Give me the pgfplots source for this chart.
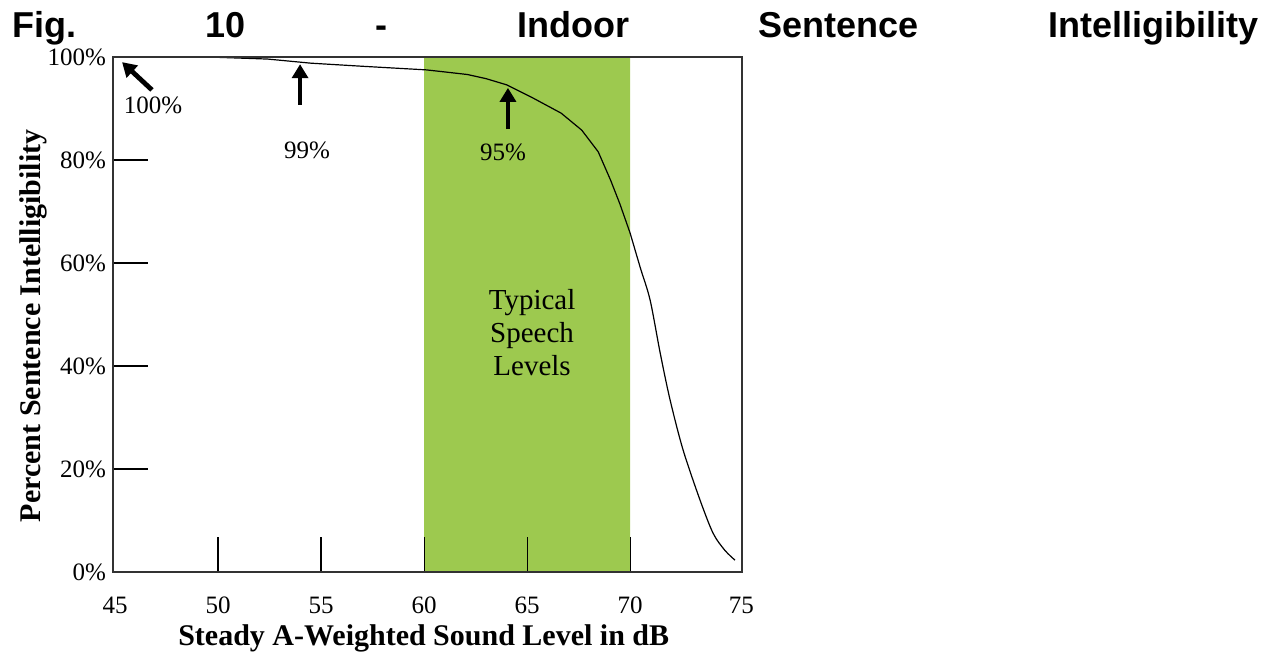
\documentclass[border=0pt]{standalone}
\usepackage{pgfplots}
\pgfplotsset{compat=1.18}
\usepackage{fontspec}
\setmainfont{Liberation Serif}
\newfontfamily\titlefont{Liberation Sans}
\usetikzlibrary{arrows.meta}
\definecolor{speechgreen}{RGB}{157,201,79}
\definecolor{axisgray}{RGB}{50,50,50}

\begin{document}
\begin{tikzpicture}
  \useasboundingbox (0,0) rectangle (635pt,329pt);
  % title, words spread over the full width
  \node[anchor=base west, inner sep=0pt] at (6pt,310pt)
    {\titlefont\bfseries\fontsize{18}{20}\selectfont
     \hbox to 623pt{Fig.\hfill 10\hfill -\hfill Indoor\hfill Sentence\hfill Intelligibility}};
  \begin{axis}[
    at={(56.5pt,43pt)}, anchor=south west,
    scale only axis, width=314.5pt, height=257.5pt,
    xmin=44.9, xmax=75.43, ymin=0, ymax=100,
    axis on top,
    axis line style={axisgray, line width=1pt},
    tick align=inside, xtick pos=bottom, ytick pos=left,
    major tick length=17.5pt,
    tick style={black, line width=0.6pt},
    xtick={50,55,60,65,70},
    ytick={20,40,60,80},
    extra x ticks={45,75.4},
    extra x tick labels={45,75},
    extra y ticks={0,100},
    extra tick style={major tick length=0pt},
    /pgf/number format/assume math mode=true,
    ticklabel style={font=\fontsize{12.5}{14}\selectfont},
    yticklabel={\pgfmathprintnumber{\tick}\%},
    xticklabel style={anchor=center, yshift=-16.5pt},
    xlabel={Steady A-Weighted Sound Level in dB},
    ylabel={Percent Sentence Intelligibility},
    label style={font=\bfseries\fontsize{15}{17}\selectfont},
    xlabel style={at={(axis description cs:0.494,-0.128)}, anchor=center},
    ylabel style={at={(axis description cs:-0.127,0.478)}, anchor=center},
  ]
    % typical speech levels band
    \addplot[fill=speechgreen, draw=none] coordinates {
      (60,0) (70,0) (70,100) (60,100)} \closedcycle;
    % intelligibility curve: upper part with kinks, falling tail smooth
    \addplot[black, line width=0.6pt] coordinates {
      (44.9,100) (49.5,100) (52.4,99.6) (54.5,98.8) (57,98.2) (59.2,97.7)
      (60.1,97.5) (61,97.1) (62.1,96.6) (63,95.8) (64,94.6) (65.3,92)
      (66.65,89.1) (67.65,85.8) (68.45,81.6) (69.05,76.1) (69.5,71.5)
      (70,65.8)};
    \addplot[black, line width=0.6pt, smooth, tension=0.5] coordinates {
      (70,65.8) (70.5,59) (70.97,52.8) (71.46,42.5)
      (71.94,33.4) (72.57,23.7) (73.39,14) (74.03,7.5) (74.6,4.2) (75.09,2.3)};
    % annotations
    \draw[line width=2.4pt, -{Triangle[length=7pt,width=8pt]}]
      (axis cs:46.79,93.6) -- (axis cs:45.34,99.0);
    \draw[line width=2.4pt, -{Triangle[length=7pt,width=8pt]}]
      (axis cs:53.98,90.7) -- (axis cs:53.98,98.6);
    \draw[line width=2.4pt, -{Triangle[length=7pt,width=8pt]}]
      (axis cs:64.07,86.0) -- (axis cs:64.07,94.0);
    \node[font=\fontsize{12.5}{14}\selectfont] at (axis cs:46.84,90.7) {100\%};
    \node[font=\fontsize{12.5}{14}\selectfont] at (axis cs:54.32,81.9) {99\%};
    \node[font=\fontsize{12.5}{14}\selectfont] at (axis cs:63.83,81.5) {95\%};
    \node[align=center, font=\fontsize{14.5}{16.5}\selectfont] at (axis cs:65.24,46.4)
      {Typical\\Speech\\Levels};
  \end{axis}
\end{tikzpicture}
\end{document}
